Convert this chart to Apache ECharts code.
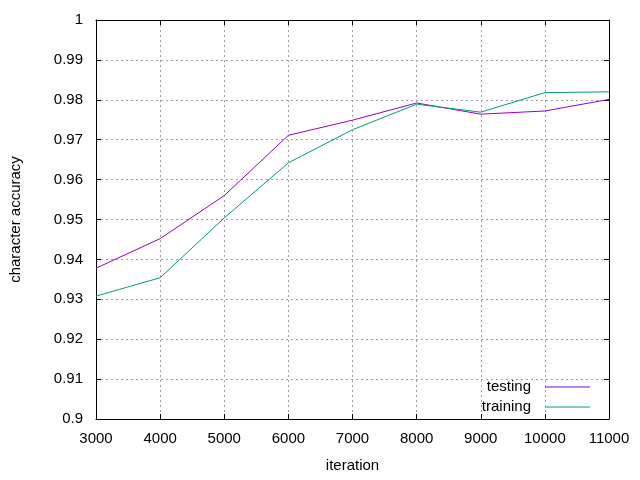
<!DOCTYPE html>
<html><head><meta charset="utf-8">
<script src="https://cdn.jsdelivr.net/npm/echarts@6/dist/echarts.min.js"></script>
<style>html,body{margin:0;padding:0;background:#fff}#c{width:640px;height:480px}</style>
</head><body><div id="c"></div>
<script>
const iterations = [3000, 4000, 5000, 6000, 7000, 8000, 9000, 10000, 11000];
const testing = [0.9378, 0.9452, 0.9560, 0.9711, 0.9749, 0.9792, 0.9764, 0.9772, 0.9801];
const training = [0.9308, 0.9354, 0.9504, 0.9642, 0.9725, 0.9789, 0.9769, 0.9818, 0.9820];
const xTickLabels = ['3000','4000','5000','6000','7000','8000','9000','10000','11000'];
const yTickLabels = ['0.9','0.91','0.92','0.93','0.94','0.95','0.96','0.97','0.98','0.99','1'];

const FONT = 'Liberation Sans';
const FS = 15;
const chart = echarts.init(document.getElementById('c'), null, {renderer: 'canvas'});
const gridLine = {show: true, lineStyle: {color: '#a0a0a0', type: [2, 3], width: 1}};
const tick = {show: true, inside: true, length: 5, lineStyle: {color: '#000'}};
chart.setOption({
  animation: false,
  backgroundColor: '#fff',
  grid: {left: 94, right: 31, top: 20, bottom: 61, containLabel: false},
  legend: {
    orient: 'vertical', right: 45, top: 372, align: 'right',
    itemWidth: 45, itemHeight: 1, itemGap: 0, icon: 'rect',
    textStyle: {fontFamily: FONT, fontSize: FS, color: '#000', lineHeight: 20, padding: [0, 9, 0, 0]},
    data: ['testing', 'training']
  },
  xAxis: [{
    type: 'value', min: 3000, max: 11000, interval: 1000,
    name: 'iteration', nameLocation: 'middle', nameGap: 39,
    nameTextStyle: {fontFamily: FONT, fontSize: FS, color: '#000'},
    axisLine: {show: true, lineStyle: {color: '#000', width: 1}},
    axisTick: tick,
    axisLabel: {fontFamily: FONT, fontSize: FS, color: '#000', margin: 12,
      formatter: v => xTickLabels[Math.round((v - 3000) / 1000)]},
    splitLine: gridLine
  }, {
    type: 'value', position: 'top', min: 3000, max: 11000, interval: 1000,
    axisLine: {show: true, lineStyle: {color: '#000', width: 1}},
    axisTick: tick, axisLabel: {show: false}, splitLine: {show: false}
  }],
  yAxis: [{
    type: 'value', min: 0.9, max: 1, interval: 0.01,
    name: 'character accuracy', nameLocation: 'middle', nameGap: 73, nameRotate: 90,
    nameTextStyle: {fontFamily: FONT, fontSize: FS, color: '#000'},
    axisLine: {show: true, lineStyle: {color: '#000', width: 1}},
    axisTick: tick,
    axisLabel: {fontFamily: FONT, fontSize: FS, color: '#000', margin: 13,
      formatter: v => yTickLabels[Math.round((v - 0.9) / 0.01)]},
    splitLine: gridLine
  }, {
    type: 'value', position: 'right', min: 0.9, max: 1, interval: 0.01,
    axisLine: {show: true, lineStyle: {color: '#000', width: 1}},
    axisTick: tick, axisLabel: {show: false}, splitLine: {show: false}
  }],
  series: [{
    name: 'testing', type: 'line', showSymbol: false, symbol: 'none',
    color: '#9400d3', lineStyle: {width: 1, color: '#9400d3'},
    data: iterations.map((x, i) => [x, testing[i]])
  }, {
    name: 'training', type: 'line', showSymbol: false, symbol: 'none',
    color: '#009e73', lineStyle: {width: 1, color: '#009e73'},
    data: iterations.map((x, i) => [x, training[i]])
  }]
});
</script></body></html>
